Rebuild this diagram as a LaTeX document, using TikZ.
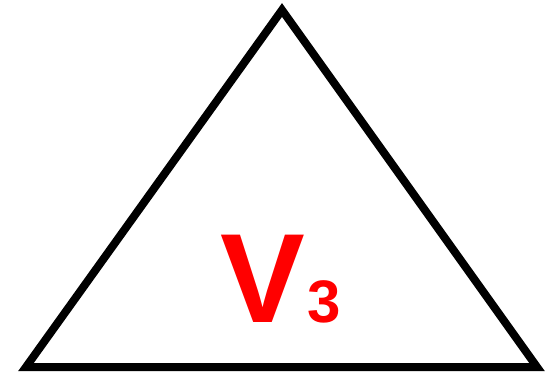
\documentclass[tikz,border=0pt]{standalone}
\usepackage{fontspec}
\setmainfont{Liberation Sans}
\definecolor{vred}{RGB}{255,0,0}
\begin{document}
\begin{tikzpicture}[x=1pt,y=-1pt,
  tri/.style={draw=black,line width=8pt,line join=miter},
  lbl/.style={text=vred,font=\bfseries,inner sep=0pt,anchor=base west}]
\useasboundingbox (0,0) rectangle (552,374);
\coordinate (A) at (282,10);
\coordinate (B) at (26,367);
\coordinate (C) at (537,367);
\draw[tri] (A) -- (B) -- (C) -- cycle;
\node[lbl,font=\bfseries\fontsize{127}{127}\selectfont] (v) at (220,323) {V};
\node[lbl,font=\bfseries\fontsize{60}{60}\selectfont] (n) at (307,323) {3};
\end{tikzpicture}
\end{document}
